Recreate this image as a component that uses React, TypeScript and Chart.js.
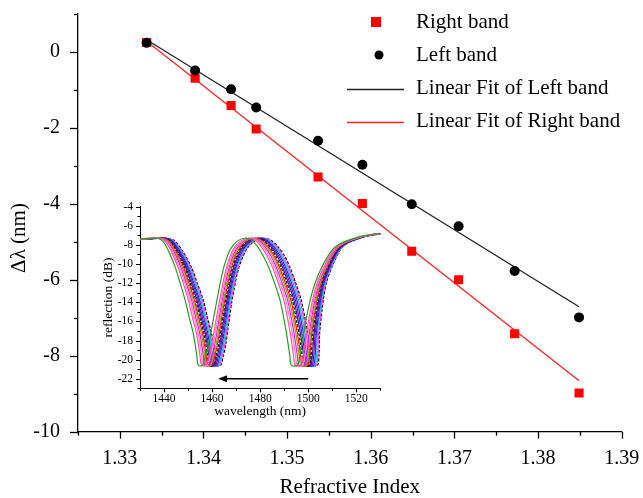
import { useEffect, useRef } from 'react';
import { Chart, registerables } from 'chart.js';
Chart.register(...registerables);

// ---------- main chart data ----------
const refractiveIndex = [1.3332, 1.339, 1.3433, 1.3463, 1.3537, 1.359, 1.3649, 1.3705, 1.3772, 1.3849];
const leftBand = [0.24, -0.49, -0.98, -1.46, -2.34, -2.97, -4.01, -4.59, -5.77, -6.99];
const rightBand = [0.25, -0.69, -1.41, -2.03, -3.29, -3.99, -5.25, -6.0, -7.42, -8.98];
const fitX = [1.3332, 1.3849];
const fitLeft = [0.32, -6.71];
const fitRight = [0.28, -8.66];
const legendLabels = ['Right band', 'Left band', 'Linear Fit of Left band', 'Linear Fit of Right band'];

const xMajor = [1.33, 1.34, 1.35, 1.36, 1.37, 1.38, 1.39];
const xMinor = [1.325, 1.335, 1.345, 1.355, 1.365, 1.375, 1.385];
const yMajor = [-10, -8, -6, -4, -2, 0];
const yMinor = [-9, -7, -5, -3, -1, 1];

// ---------- inset data ----------
// [wavelength (nm), reflection (dB), shift weight] read off the leftmost (green) trace
const baseProfile: [number, number, number][] = [
  [1415, -7.55, 0.55], [1424, -7.45, 0.55], [1431, -7.35, 0.55], [1437, -7.3, 0.55],
  [1439.5, -7.6, 0.6], [1442, -8.7, 0.7], [1444.6, -10.3, 0.8], [1446.7, -12.0, 0.85],
  [1448.8, -13.8, 0.9], [1450.5, -15.6, 0.9], [1452.2, -17.3, 0.9], [1453.5, -19.3, 0.9],
  [1454.3, -20.6, 0.9], [1456, -20.6, 0.9], [1457.3, -19.6, 0.88], [1458.5, -18.5, 0.85],
  [1460, -16.5, 0.8], [1462, -13.8, 0.75], [1464.7, -10.5, 0.75], [1467.5, -8.5, 0.8],
  [1470.5, -7.6, 0.85], [1473.6, -7.3, 0.9], [1476.5, -7.5, 0.95], [1479, -8.2, 1.0],
  [1481.2, -9.1, 1.05], [1483.5, -10.3, 1.05], [1486, -12.0, 1.05], [1488.3, -13.8, 1.05],
  [1490, -15.9, 1.05], [1491, -17.3, 1.05], [1492.3, -19.5, 1.05], [1493, -20.6, 1.05],
  [1495.5, -20.6, 1.0], [1496.5, -19.6, 0.95], [1498, -17.3, 0.8], [1500.8, -13.8, 0.65],
  [1503, -11.9, 0.55], [1505.7, -10.3, 0.5], [1509.9, -8.55, 0.4], [1513, -7.9, 0.35],
  [1516.8, -7.5, 0.3], [1522, -7.1, 0.25], [1530, -6.8, 0.2], [1545, -6.6, 0.2],
];
const curveShifts = [0, 1.5, 2.3, 3.0, 3.7, 4.3, 4.9, 5.5, 6.1, 6.7, 7.3, 7.9, 8.4];
const curveColors = ['#22a022', '#ff4fa8', '#ff80c0', '#e020e0', '#a0a000', '#ff1010', '#101010', '#202090', '#8000c0', '#1030ff', '#10c0d0', '#ff30ff', '#000000'];
const curveDashed = [false, false, false, false, false, false, true, false, false, false, false, false, true];
const insetXMajor = [1440, 1460, 1480, 1500, 1520];
const insetXMinor = [1430, 1450, 1470, 1490, 1510, 1530];
const insetYMajor = [-22, -20, -18, -16, -14, -12, -10, -8, -6, -4];
const insetYMinor = [-23, -21, -19, -17, -15, -13, -11, -9, -7, -5];
const arrowFrom = 1500;
const arrowTo = 1462.5;
const arrowLevel = -22;

const SERIF = '"Liberation Serif", "Times New Roman", serif';

const zeroPad = (s: any) => {
  s.paddingTop = 0;
  s.paddingBottom = 0;
  s.paddingLeft = 0;
  s.paddingRight = 0;
};

export default function App() {
  const mainRef = useRef<HTMLCanvasElement>(null);
  const insetRef = useRef<HTMLCanvasElement>(null);

  useEffect(() => {
    const mainDecor = {
      id: 'mainDecor',
      afterDraw(chart: any) {
        const { ctx, chartArea } = chart;
        const xs = chart.scales.x;
        const ys = chart.scales.y;
        ctx.save();
        ctx.strokeStyle = '#000';
        ctx.lineWidth = 1.3;
        const tx = (vals: number[], len: number) =>
          vals.forEach((v) => {
            const p = Math.round(xs.getPixelForValue(v)) + 0.5;
            ctx.beginPath();
            ctx.moveTo(p, chartArea.bottom);
            ctx.lineTo(p, chartArea.bottom + len);
            ctx.stroke();
          });
        const ty = (vals: number[], len: number) =>
          vals.forEach((v) => {
            const p = Math.round(ys.getPixelForValue(v)) + 0.5;
            ctx.beginPath();
            ctx.moveTo(chartArea.left, p);
            ctx.lineTo(chartArea.left - len, p);
            ctx.stroke();
          });
        tx(xMajor, 7);
        tx(xMinor, 4);
        ty(yMajor, 8);
        ty(yMinor, 4);

        // axis titles
        ctx.fillStyle = '#000';
        ctx.font = `21px ${SERIF}`;
        ctx.textAlign = 'center';
        ctx.textBaseline = 'middle';
        ctx.fillText('Refractive Index', (chartArea.left + chartArea.right) / 2, 487);
        ctx.save();
        ctx.translate(19, 238);
        ctx.rotate(-Math.PI / 2);
        ctx.fillText('Δλ (nm)', 0, 0);
        ctx.restore();

        // legend
        const rows = [22, 55, 88, 121];
        const mx = 376;
        ctx.textAlign = 'left';
        ctx.font = `21px ${SERIF}`;
        legendLabels.forEach((lab, i) => {
          const y = rows[i];
          if (i === 0) {
            ctx.fillStyle = '#ff0000';
            ctx.fillRect(mx - 5, y - 5, 10, 10);
          } else if (i === 1) {
            ctx.fillStyle = '#000';
            ctx.beginPath();
            ctx.arc(mx + 3, y, 4.5, 0, Math.PI * 2);
            ctx.fill();
          } else {
            ctx.strokeStyle = i === 2 ? '#222' : '#ff2020';
            ctx.lineWidth = 1.3;
            ctx.beginPath();
            ctx.moveTo(347, y + 1.5);
            ctx.lineTo(404, y + 1.5);
            ctx.stroke();
          }
          ctx.fillStyle = '#000';
          ctx.fillText(lab, 416, y);
        });
        ctx.restore();
      },
    };

    const main = new Chart(mainRef.current!, {
      type: 'scatter',
      data: {
        datasets: [
          {
            label: 'Left band',
            data: refractiveIndex.map((x, i) => ({ x, y: leftBand[i] })),
            pointStyle: 'circle',
            pointRadius: 5,
            backgroundColor: '#000',
            borderColor: '#000',
            borderWidth: 0,
            showLine: false,
          },
          {
            label: 'Right band',
            data: refractiveIndex.map((x, i) => ({ x, y: rightBand[i] })),
            pointStyle: 'rect',
            pointRadius: 6.4,
            backgroundColor: '#ff0000',
            borderColor: '#ff0000',
            borderWidth: 0,
            showLine: false,
          },
          {
            label: 'Linear Fit of Left band',
            data: fitX.map((x, i) => ({ x, y: fitLeft[i] })),
            showLine: true,
            borderColor: '#222',
            borderWidth: 1.3,
            pointRadius: 0,
          },
          {
            label: 'Linear Fit of Right band',
            data: fitX.map((x, i) => ({ x, y: fitRight[i] })),
            showLine: true,
            borderColor: '#ff2020',
            borderWidth: 1.3,
            pointRadius: 0,
          },
        ],
      },
      options: {
        animation: false,
        responsive: false,
        maintainAspectRatio: false,
        devicePixelRatio: 1,
        layout: { padding: { top: 14, right: 21.3, left: 0, bottom: 0 } },
        plugins: { legend: { display: false }, tooltip: { enabled: false } },
        scales: {
          x: {
            type: 'linear',
            min: 1.325,
            max: 1.39,
            afterFit: (s: any) => { s.height = 66.3; zeroPad(s); },
            afterBuildTicks: (s: any) => { s.ticks = xMajor.map((v) => ({ value: v })); },
            ticks: {
              callback: (v: any) => Number(v).toFixed(2),
              font: { family: SERIF, size: 20 },
              color: '#000',
              padding: 15,
              maxRotation: 0,
              autoSkip: false,
            },
            grid: { display: false, drawTicks: false, tickLength: 0 },
            border: { display: true, color: '#000', width: 1.3 },
          },
          y: {
            type: 'linear',
            min: -10,
            max: 1,
            afterFit: (s: any) => { s.width = 78; zeroPad(s); },
            afterBuildTicks: (s: any) => { s.ticks = yMajor.map((v) => ({ value: v })); },
            ticks: {
              callback: (v: any) => String(v),
              font: { family: SERIF, size: 20 },
              color: '#000',
              padding: 18,
              autoSkip: false,
            },
            grid: { display: false, drawTicks: false, tickLength: 0 },
            border: { display: true, color: '#000', width: 1.3 },
          },
        },
      },
      plugins: [mainDecor],
    } as any);

    const insetDecor = {
      id: 'insetDecor',
      afterDraw(chart: any) {
        const { ctx, chartArea } = chart;
        const xs = chart.scales.x;
        const ys = chart.scales.y;
        ctx.save();
        ctx.strokeStyle = '#000';
        ctx.lineWidth = 1;
        const tx = (vals: number[], len: number) =>
          vals.forEach((v) => {
            const p = Math.round(xs.getPixelForValue(v)) + 0.5;
            ctx.beginPath();
            ctx.moveTo(p, chartArea.bottom);
            ctx.lineTo(p, chartArea.bottom + len);
            ctx.stroke();
          });
        const ty = (vals: number[], len: number) =>
          vals.forEach((v) => {
            const p = Math.round(ys.getPixelForValue(v)) + 0.5;
            ctx.beginPath();
            ctx.moveTo(chartArea.left, p);
            ctx.lineTo(chartArea.left - len, p);
            ctx.stroke();
          });
        tx(insetXMajor, 4);
        tx(insetXMinor, 2.5);
        ty(insetYMajor, 4);
        ty(insetYMinor, 2.5);

        // arrow
        const ay = ys.getPixelForValue(arrowLevel);
        const a0 = xs.getPixelForValue(arrowFrom);
        const a1 = xs.getPixelForValue(arrowTo);
        ctx.lineWidth = 1.5;
        ctx.beginPath();
        ctx.moveTo(a0, ay);
        ctx.lineTo(a1 + 6, ay);
        ctx.stroke();
        ctx.fillStyle = '#000';
        ctx.beginPath();
        ctx.moveTo(a1, ay);
        ctx.lineTo(a1 + 9, ay - 3.5);
        ctx.lineTo(a1 + 9, ay + 3.5);
        ctx.closePath();
        ctx.fill();

        // titles
        ctx.font = `13.5px ${SERIF}`;
        ctx.textAlign = 'center';
        ctx.textBaseline = 'middle';
        ctx.fillText('wavelength (nm)', (chartArea.left + chartArea.right) / 2, 216);
        ctx.save();
        ctx.translate(48, (chartArea.top + chartArea.bottom) / 2);
        ctx.rotate(-Math.PI / 2);
        ctx.fillText('reflection (dB)', 0, 0);
        ctx.restore();
        ctx.restore();
      },
    };

    const inset = new Chart(insetRef.current!, {
      type: 'scatter',
      data: {
        datasets: curveShifts.map((s, k) => ({
          label: 'trace ' + (k + 1),
          data: baseProfile.map(([l, d, w]) => ({ x: l + s * w, y: d })),
          showLine: true,
          borderColor: curveColors[k],
          borderWidth: 1.2,
          borderDash: curveDashed[k] ? [3, 1.5] : [],
          pointRadius: 0,
          tension: 0.3,
          clip: 0,
        })),
      },
      options: {
        animation: false,
        responsive: false,
        maintainAspectRatio: false,
        devicePixelRatio: 1,
        layout: { padding: { top: 11.7, right: 9.7, left: 0, bottom: 0 } },
        plugins: { legend: { display: false }, tooltip: { enabled: false } },
        scales: {
          x: {
            type: 'linear',
            min: 1430,
            max: 1530,
            afterFit: (s: any) => { s.height = 36.7; zeroPad(s); },
            afterBuildTicks: (s: any) => { s.ticks = insetXMajor.map((v) => ({ value: v })); },
            ticks: {
              callback: (v: any) => String(v),
              font: { family: SERIF, size: 11.5 },
              color: '#000',
              padding: 4,
              maxRotation: 0,
              autoSkip: false,
            },
            grid: { display: false, drawTicks: false, tickLength: 0 },
            border: { display: true, color: '#000', width: 1 },
          },
          y: {
            type: 'linear',
            min: -23,
            max: -4,
            afterFit: (s: any) => { s.width = 80; zeroPad(s); },
            afterBuildTicks: (s: any) => { s.ticks = insetYMajor.map((v) => ({ value: v })); },
            ticks: {
              callback: (v: any) => String(v),
              font: { family: SERIF, size: 11.5 },
              color: '#000',
              padding: 7,
              autoSkip: false,
            },
            grid: { display: false, drawTicks: false, tickLength: 0 },
            border: { display: true, color: '#000', width: 1 },
          },
        },
      },
      plugins: [insetDecor],
    } as any);

    return () => {
      main.destroy();
      inset.destroy();
    };
  }, []);

  return (
    <div style={{ position: 'absolute', left: 0, top: 0, width: 643, height: 498, background: '#fff' }}>
      <canvas ref={mainRef} width={643} height={498} style={{ position: 'absolute', left: 0, top: 0, width: 643, height: 498 }} />
      <canvas ref={insetRef} width={330} height={230} style={{ position: 'absolute', left: 60, top: 195, width: 330, height: 230 }} />
    </div>
  );
}
